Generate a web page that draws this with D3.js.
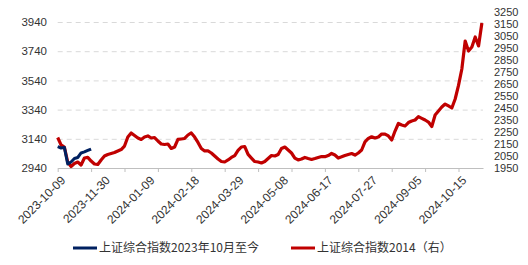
<!DOCTYPE html>
<html>
<head>
<meta charset="utf-8">
<script src="https://cdn.jsdelivr.net/npm/d3@7"></script>
<style>
  body { margin: 0; background: #fff; }
  svg { display: block; font-family: "Liberation Sans", Arial, sans-serif; }
</style>
</head>
<body>
<svg id="chart" width="528" height="265"></svg>
<script>
// x labels (one every 40 steps, first one at step 0)
var dateLabels = ["2023-10-09", "2023-11-30", "2024-01-09", "2024-02-18", "2024-03-29",
                  "2024-05-08", "2024-06-17", "2024-07-27", "2024-09-05", "2024-10-15"];
var leftTicks = [2940, 3140, 3340, 3540, 3740, 3940];
var rightTicks = [1950, 2050, 2150, 2250, 2350, 2450, 2550, 2650, 2750, 2850, 2950, 3050, 3150, 3250];

// one value every 3 steps
var sse2023 = [3086, 3077, 3080, 2967, 2981, 3005, 3012, 3043, 3050, 3060, 3070];
var sse2014 = [2204,2142,2125,2000,1963,1988,2000,1975,2033,2038,
               2008,1983,1979,2017,2050,2063,2071,2079,2092,2104,
               2133,2208,2242,2221,2200,2188,2208,2217,2200,2204,
               2175,2150,2146,2150,2113,2125,2188,2192,2196,2225,
               2242,2208,2163,2113,2092,2092,2075,2050,2025,2004,
               2000,2017,2038,2054,2096,2125,2129,2063,2033,2004,
               2000,1992,2004,2029,2054,2050,2063,2113,2125,2100,
               2075,2033,2017,2025,2038,2029,2021,2029,2038,2046,
               2044,2054,2071,2058,2033,2043,2054,2063,2071,2058,
               2075,2100,2167,2196,2210,2200,2208,2233,2233,2217,
               2183,2258,2321,2308,2300,2329,2342,2350,2378,2364,
               2350,2333,2296,2392,2425,2458,2483,2467,2450,2525,
               2638,2775,3008,2925,2958,3042,2967,3158];
var step = 3;

var svg = d3.select("#chart");

var x = d3.scaleLinear().domain([0, 382]).range([57.7, 483]);
var yL = d3.scaleLinear().domain([2940, 3940]).range([168, 22]);
var yR = d3.scaleLinear().domain([1950, 3250]).range([168, 12]);

// dashed gridlines
svg.append("g")
  .attr("transform", "translate(57.7,0)")
  .call(d3.axisLeft(yL).tickValues(leftTicks.slice(1)).tickSize(-(483 - 57.7)).tickFormat(""))
  .call(function (g) { g.select(".domain").remove(); })
  .selectAll("line")
  .attr("stroke", "#d9d9d9")
  .attr("stroke-width", 1)
  .attr("stroke-dasharray", "5,4");

// left labels
var gl = svg.append("g")
  .attr("transform", "translate(47,0)")
  .call(d3.axisLeft(yL).tickValues(leftTicks).tickSize(0).tickPadding(0).tickFormat(d3.format("d")));
gl.select(".domain").remove();
gl.selectAll("text").attr("font-size", 11.5).attr("font-family", "Liberation Sans, Arial").attr("fill", "#333");

// right labels
var gr = svg.append("g")
  .attr("transform", "translate(494,0)")
  .call(d3.axisRight(yR).tickValues(rightTicks).tickSize(0).tickPadding(0).tickFormat(d3.format("d")));
gr.select(".domain").remove();
gr.selectAll("text").attr("font-size", 11).attr("font-family", "Liberation Sans, Arial").attr("fill", "#333");

// bottom axis: tick marks every 30 steps
var gb = svg.append("g")
  .attr("transform", "translate(0,168)")
  .call(d3.axisBottom(x).tickValues(d3.range(0, 361, 30)).tickSize(4).tickSizeOuter(0).tickFormat(""));
gb.select(".domain").attr("stroke", "#bfbfbf");
gb.selectAll("line").attr("stroke", "#bfbfbf");

// bottom labels every 40 steps
var gx = svg.append("g")
  .attr("transform", "translate(0,168)")
  .call(d3.axisBottom(x).tickValues(d3.range(0, 361, 40)).tickSize(0)
        .tickFormat(function (d, i) { return dateLabels[i]; }));
gx.select(".domain").remove();
gx.selectAll("text")
  .attr("font-size", 12)
  .attr("font-family", "Liberation Sans, Arial")
  .attr("fill", "#333")
  .attr("text-anchor", "end")
  .attr("dy", "0.35em")
  .attr("transform", "translate(3,8) rotate(-45)");

// lines
var lineR = d3.line().x(function (d, i) { return x(i * step); }).y(function (d) { return yR(d); });
var lineL = d3.line().x(function (d, i) { return x(i * step); }).y(function (d) { return yL(d); });

svg.append("path")
  .datum(sse2014)
  .attr("d", lineR)
  .attr("fill", "none")
  .attr("stroke", "#c00000")
  .attr("stroke-width", 3.2)
  .attr("stroke-linejoin", "round");

svg.append("path")
  .datum(sse2023)
  .attr("d", lineL)
  .attr("fill", "none")
  .attr("stroke", "#002060")
  .attr("stroke-width", 3)
  .attr("stroke-linejoin", "round");

// legend
var legend = [
  { name: "上证综合指数2023年10月至今", color: "#002060", x: 73 },
  { name: "上证综合指数2014（右）", color: "#c00000", x: 291 }
];
legend.forEach(function (l) {
  svg.append("line")
    .attr("x1", l.x).attr("x2", l.x + 24)
    .attr("y1", 248).attr("y2", 248)
    .attr("stroke", l.color)
    .attr("stroke-width", 3);
  svg.append("text")
    .attr("x", l.x + 26)
    .attr("y", 248)
    .attr("dy", "0.35em")
    .attr("font-size", 12)
    .attr("font-family", "Noto Sans CJK SC")
    .attr("fill", "#333")
    .text(l.name);
});
</script>
</body>
</html>
